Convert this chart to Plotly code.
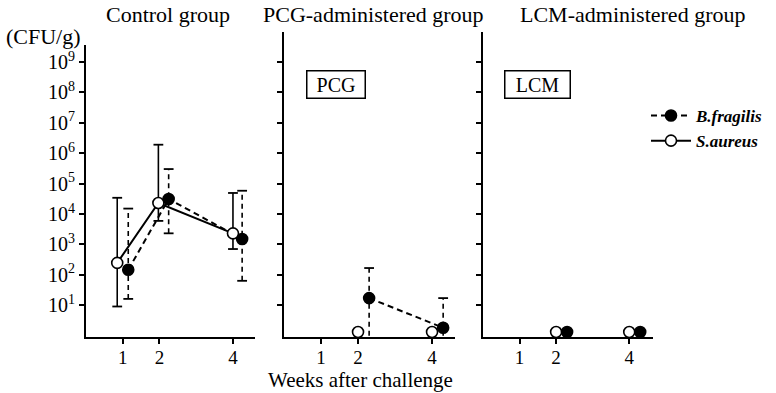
import plotly.graph_objects as go

# ---------------- data (CFU/g) ----------------
week_ticks = [1, 2, 4]
decades = [1, 2, 3, 4, 5, 6, 7, 8, 9]
ND = 1.3  # not detected (plotted on the baseline)

# Control group
ctrl_sa_x = [0.85, 1.97, 4.0]
ctrl_sa = [245, 2.3e4, 2.3e3]
ctrl_sa_hi = [3.4e4, 1.9e6, 4.9e4]
ctrl_sa_lo = [9, 5.9e3, 7.0e2]

ctrl_bf_x = [1.15, 2.25, 4.25]
ctrl_bf = [145, 3.1e4, 1.5e3]
ctrl_bf_hi = [1.5e4, 3.0e5, 5.8e4]
ctrl_bf_lo = [16, 2.3e3, 63]

# PCG-administered group
pcg_sa_x = [2.0, 4.0]
pcg_sa = [ND, ND]
pcg_bf_x = [2.3, 4.3]
pcg_bf = [17, 1.8]
pcg_bf_hi = [166, 17]
pcg_bf_lo = [None, None]  # extends to the axis

# LCM-administered group
lcm_sa_x = [2.0, 4.0]
lcm_sa = [ND, ND]
lcm_bf_x = [2.3, 4.3]
lcm_bf = [ND, ND]

panel_titles = ["Control group", "PCG-administered group", "LCM-administered group"]
series_names = ["B.fragilis", "S.aureus"]

# ---------------- figure ----------------
FONT = "'Liberation Serif', 'Times New Roman', 'DejaVu Serif', serif"
BLACK = "black"
AXIS_FLOOR = 0.5  # value below axis bottom, used for "to axis" error bars

fig = go.Figure()


def add_errbars(xs, hi, lo, dash, xa, ya):
    ex, ey, cx, cy = [], [], [], []
    for x, h, l in zip(xs, hi, lo):
        low = AXIS_FLOOR if l is None else l
        ex += [x, x, None]
        ey += [low, h, None]
        cx.append(x)
        cy.append(h)
        if l is not None:
            cx.append(x)
            cy.append(l)
    fig.add_trace(go.Scatter(x=ex, y=ey, mode="lines", xaxis=xa, yaxis=ya,
                             line=dict(color=BLACK, width=1.6, dash=dash),
                             showlegend=False, hoverinfo="skip"))
    fig.add_trace(go.Scatter(x=cx, y=cy, mode="markers", xaxis=xa, yaxis=ya,
                             marker=dict(symbol="line-ew", size=7,
                                         line=dict(color=BLACK, width=1.8)),
                             showlegend=False, hoverinfo="skip"))


def add_series(xs, ys, kind, xa, ya, lines=True, legend=False):
    filled = kind == "bf"
    fig.add_trace(go.Scatter(
        x=xs, y=ys, mode="lines+markers" if lines else "markers",
        xaxis=xa, yaxis=ya, cliponaxis=False,
        name=series_names[0] if filled else series_names[1],
        legendrank=1 if filled else 2,
        showlegend=legend,
        line=dict(color=BLACK, width=2, dash="6px,4px" if filled else "solid"),
        marker=dict(symbol="circle", size=11,
                    color=BLACK if filled else "white",
                    line=dict(color=BLACK, width=1.6)),
    ))


DASH = "5px,4px"
# Control
add_errbars(ctrl_sa_x, ctrl_sa_hi, ctrl_sa_lo, "solid", "x", "y")
add_errbars(ctrl_bf_x, ctrl_bf_hi, ctrl_bf_lo, DASH, "x", "y")
add_series(ctrl_bf_x, ctrl_bf, "bf", "x", "y", legend=True)
add_series(ctrl_sa_x, ctrl_sa, "sa", "x", "y", legend=True)
# PCG
add_errbars(pcg_bf_x, pcg_bf_hi, pcg_bf_lo, DASH, "x2", "y2")
add_series(pcg_sa_x, pcg_sa, "sa", "x2", "y2", lines=False)
add_series(pcg_bf_x, pcg_bf, "bf", "x2", "y2")
# LCM
add_series(lcm_sa_x, lcm_sa, "sa", "x3", "y3", lines=False)
add_series(lcm_bf_x, lcm_bf, "bf", "x3", "y3", lines=False)

W, H = 776, 393
def px(v):
    return v / W
def py(v):
    return (H - v) / H

axis_common = dict(showline=True, linecolor=BLACK, linewidth=2, ticks="outside",
                   ticklen=5, tickwidth=1.5, tickcolor=BLACK, showgrid=False,
                   zeroline=False, tickfont=dict(family=FONT, size=20, color=BLACK))

xdoms = [(86, 255), (284, 455), (483, 653)]
xranges = [[0, 4.6], [0, 4.62], [0, 4.65]]
for i, (d, r) in enumerate(zip(xdoms, xranges)):
    key = "xaxis" if i == 0 else f"xaxis{i+1}"
    fig.layout[key] = dict(axis_common, domain=[px(d[0]), px(d[1])], range=r,
                           tickvals=week_ticks, ticktext=[str(w) for w in week_ticks],
                           ticklabelstandoff=-3,
                           tickfont=dict(family=FONT, size=19, color=BLACK),
                           anchor="y" if i == 0 else f"y{i+1}")

ytext = [f"10<sup>{k}</sup>" for k in decades]
yvals = [10 ** k for k in decades]
fig.layout["yaxis"] = dict(axis_common, type="log", domain=[py(337), py(45)],
                           range=[-0.05, 9.56], tickvals=yvals, ticktext=ytext,
                           anchor="x")
for i in (2, 3):
    fig.layout[f"yaxis{i}"] = dict(axis_common, type="log", domain=[py(337), py(32)],
                                   range=[-0.05, 9.99], tickvals=yvals,
                                   showticklabels=False, anchor=f"x{i}")

title_centers = [168, 373, 632]
ann = []
for t, c in zip(panel_titles, title_centers):
    ann.append(dict(text=t, x=px(c), y=py(15), xref="paper", yref="paper",
                    showarrow=False, xanchor="center", yanchor="middle",
                    font=dict(family=FONT, size=22, color=BLACK)))
ann.append(dict(text="(CFU/g)", x=px(4), y=py(36), xref="paper", yref="paper",
                showarrow=False, xanchor="left", yanchor="middle",
                font=dict(family=FONT, size=22, color=BLACK)))
ann.append(dict(text="Weeks after challenge", x=px(360), y=py(380), xref="paper",
                yref="paper", showarrow=False, xanchor="center", yanchor="middle",
                font=dict(family=FONT, size=21, color=BLACK)))
for t, c, w in (("PCG", 336, 55), ("LCM", 537, 62)):
    ann.append(dict(text=t, x=px(c), y=py(84), xref="paper", yref="paper",
                    showarrow=False, xanchor="center", yanchor="middle",
                    width=w, height=24, bordercolor=BLACK, borderwidth=1.5,
                    borderpad=1, font=dict(family=FONT, size=20, color=BLACK)))

fig.update_layout(
    width=W, height=H, margin=dict(l=0, r=0, t=0, b=0),
    paper_bgcolor="white", plot_bgcolor="white",
    annotations=ann,
    showlegend=True,
    legend=dict(x=px(646), y=py(98), xanchor="left", yanchor="top",
                bgcolor="rgba(0,0,0,0)", tracegroupgap=0, itemwidth=40,
                font=dict(family=FONT, size=17, color=BLACK, style="italic",
                          weight="bold")),
)

fig.write_html("out.html")
